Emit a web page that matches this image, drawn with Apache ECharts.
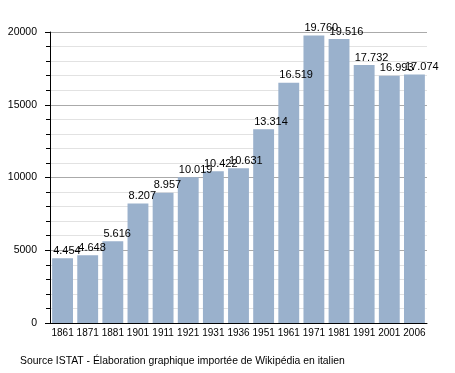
<!DOCTYPE html>
<html><head><meta charset="utf-8">
<script src="https://cdn.jsdelivr.net/npm/echarts@6/dist/echarts.min.js"></script>
<style>html,body{margin:0;padding:0;background:#fff}#c{width:455px;height:373px}</style>
</head><body><div id="c"></div>
<script>
const years = ['1861','1871','1881','1901','1911','1921','1931','1936','1951','1961','1971','1981','1991','2001','2006'];
const population = [4454,4648,5616,8207,8957,10019,10422,10631,13314,16519,19760,19516,17732,16993,17074];
const yTicks = [0,5000,10000,15000,20000];
const sourceText = 'Source ISTAT - Élaboration graphique importée de Wikipédia en italien';

function fmt(v){ return String(v).replace(/\B(?=(\d{3})+(?!\d))/g,'.'); }

const chart = echarts.init(document.getElementById('c'), null, {renderer:'canvas'});
chart.setOption({
  animation:false,
  textStyle:{fontFamily:'Liberation Sans, Arial, sans-serif'},
  grid:{left:50,right:28,top:32,bottom:50,containLabel:false},
  graphic:[{type:'text',left:20,top:356,style:{text:sourceText,fill:'#000',font:'10.4px Liberation Sans, Arial, sans-serif'}}],
  xAxis:{type:'category',data:years,
    axisLine:{lineStyle:{color:'#000',width:1}},
    axisTick:{show:false},
    axisLabel:{color:'#000',fontSize:10,margin:5,interval:0}},
  yAxis:{type:'value',min:yTicks[0],max:yTicks[yTicks.length-1],interval:5000,
    axisLine:{show:true,lineStyle:{color:'#000'}},
    axisTick:{show:true,length:5,lineStyle:{color:'#000'}},
    minorTick:{show:true,splitNumber:5,length:4,lineStyle:{color:'#000'}},
    splitLine:{show:true,lineStyle:{color:'#aaa'}},
    minorSplitLine:{show:true,lineStyle:{color:'#e2e2e2'}},
    axisLabel:{color:'#000',fontSize:10.5,margin:13,formatter:v=>String(v)}},
  series:[{type:'bar',data:population,barCategoryGap:'17%',
    itemStyle:{color:'#9ab1cc'},
    label:{show:true,position:[1,-2],align:'left',verticalAlign:'bottom',color:'#000',fontSize:11,formatter:p=>fmt(p.value)}}]
});
</script></body></html>
